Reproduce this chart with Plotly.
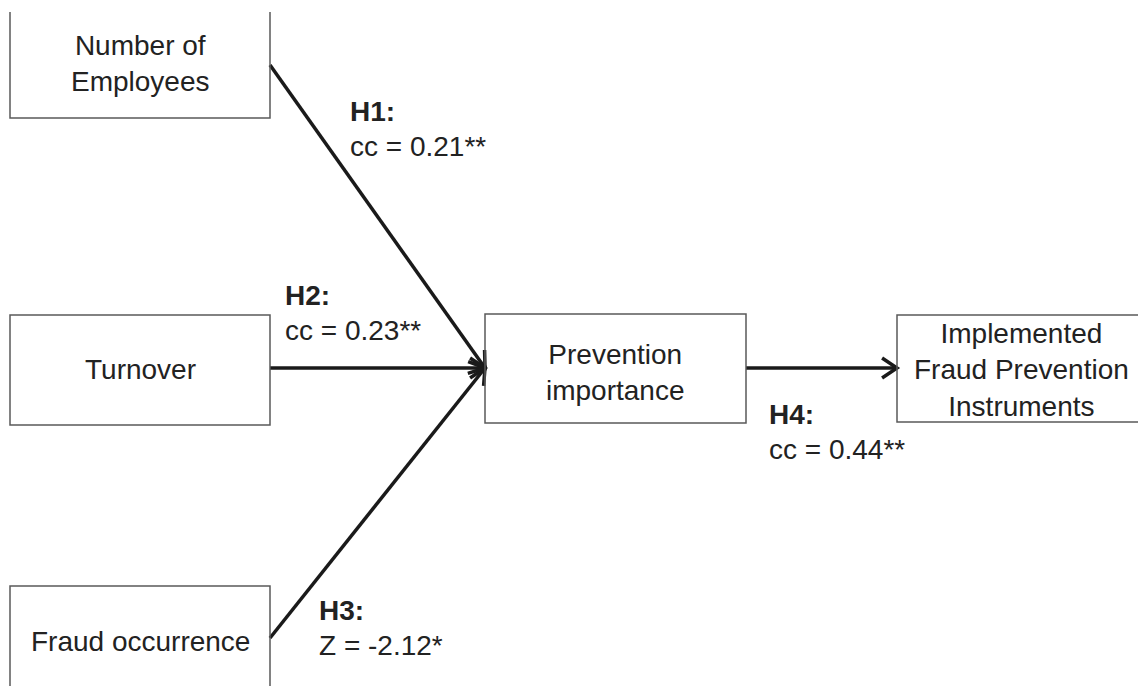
import numpy as np
import plotly.graph_objects as go

# ---- data ----
node_labels = ["Number of<br>Employees", "Turnover", "Fraud occurrence",
               "Prevention<br>importance",
               "Implemented<br>Fraud Prevention<br>Instruments"]
hypotheses = ["H1:", "H2:", "H3:", "H4:"]
statistics = ["cc = 0.21**", "cc = 0.23**", "Z = -2.12*", "cc = 0.44**"]
edge_from = [0, 1, 2, 3]
edge_to = [3, 3, 3, 4]

# ---- layout geometry (reference pixels, y downward) ----
W, H = 1146, 686
OFF = 8  # page body margin
box_x0 = [10, 10, 10, 485, 897]
box_x1 = [270, 270, 270, 746, 1145]
box_y0 = [12, 315, 586, 314, 315]
box_y1 = [118, 425, 720, 423, 422]
open_top = [True, False, False, False, False]
text_y = [63, 369, 641, 372, 370]
start_pts = [(270, 65), (270, 368), (270, 638), (746, 368)]
end_pts = [(485, 368), (485, 368), (485, 368), (897, 368)]
label_xy = [(348, 111), (283, 295), (317, 610), (767, 414)]

FONT = "Liberation Sans, Arial, sans-serif"
fs_node = 28
fs_lab = 28
TXT = "#222222"
EDGE = "#1a1a1a"

fig = go.Figure()

shapes = []
annotations = []
for i, lab in enumerate(node_labels):
    x0, x1, y0, y1 = box_x0[i], box_x1[i], box_y0[i], box_y1[i]
    if open_top[i]:
        path = f"M {x0},{y0} L {x0},{y1} L {x1},{y1} L {x1},{y0}"
    else:
        path = f"M {x0},{y0} L {x0},{y1} L {x1},{y1} L {x1},{y0} Z"
    shapes.append(dict(type="path", xref="x", yref="y", path=path,
                       line=dict(color="#5a5a5a", width=1.5)))
    annotations.append(dict(x=(x0 + x1) / 2, y=text_y[i], xref="x", yref="y",
                            text=lab, showarrow=False, align="center",
                            yanchor="middle",
                            font=dict(family=FONT, size=fs_node, color=TXT)))

# edges with open chevron heads
L, ang = 18, np.deg2rad(34)
for k in range(len(edge_from)):
    sx, sy = start_pts[k]
    ex, ey = end_pts[k]
    fig.add_trace(go.Scatter(x=[sx, ex], y=[sy, ey], mode="lines",
                             line=dict(color=EDGE, width=3.5),
                             hoverinfo="skip", showlegend=False))
    theta = np.arctan2(sy - ey, sx - ex)
    a1 = (ex + L * np.cos(theta + ang), ey + L * np.sin(theta + ang))
    a2 = (ex + L * np.cos(theta - ang), ey + L * np.sin(theta - ang))
    fig.add_trace(go.Scatter(x=[a1[0], ex, a2[0]], y=[a1[1], ey, a2[1]],
                             mode="lines", line=dict(color=EDGE, width=3.5),
                             hoverinfo="skip", showlegend=False))
    lx, ly = label_xy[k]
    annotations.append(dict(x=lx, y=ly, xref="x", yref="y", xanchor="left",
                            yanchor="middle", showarrow=False,
                            text="<b>" + hypotheses[k] + "</b>",
                            font=dict(family=FONT, size=fs_lab, color=TXT)))
    annotations.append(dict(x=lx, y=ly + 35, xref="x", yref="y", xanchor="left",
                            yanchor="middle", showarrow=False,
                            text=statistics[k],
                            font=dict(family=FONT, size=fs_lab, color=TXT)))

fig.update_layout(width=W - OFF, height=H - OFF, margin=dict(l=0, r=0, t=0, b=0),
                  paper_bgcolor="white", plot_bgcolor="white",
                  shapes=shapes, annotations=annotations,
                  xaxis=dict(range=[OFF, W], visible=False, fixedrange=True),
                  yaxis=dict(range=[H, OFF], visible=False, fixedrange=True),
                  showlegend=False)
fig.write_html("out.html", config={"displayModeBar": False})
